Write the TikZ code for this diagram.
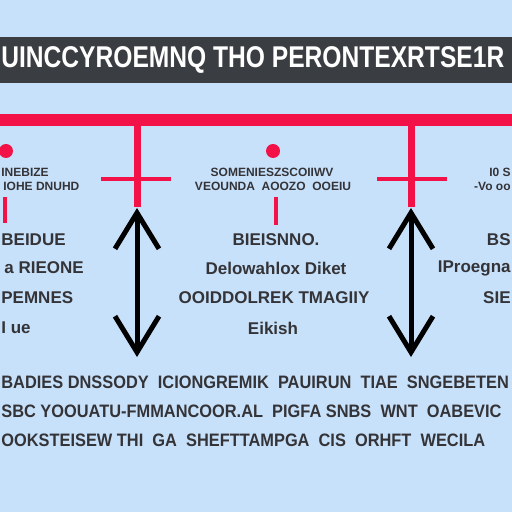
\documentclass[tikz,border=0pt]{standalone}
\usepackage{fontspec}
\setmainfont{Liberation Sans}
\usetikzlibrary{arrows.meta, positioning}
\definecolor{skyback}{RGB}{200,225,250}
\definecolor{banner}{RGB}{58,61,65}
\definecolor{crimson}{RGB}{242,18,72}
\definecolor{ink}{RGB}{52,52,56}
\tikzset{
  titletxt/.style={text=white, font=\bfseries\fontsize{15}{16}\selectfont, inner sep=0pt, xscale=0.82, transform shape},
  smalltxt/.style={text=ink, font=\bfseries\fontsize{6}{7}\selectfont, inner sep=0pt},
  midtxt/.style={text=ink, font=\bfseries\fontsize{8.5}{9.5}\selectfont, inner sep=0pt},
  rowtxt/.style={text=ink, font=\bfseries\fontsize{9}{10}\selectfont, inner sep=0pt, xscale=0.91, transform shape},
  bigred/.style={draw=crimson, line width=6pt},
  stem/.style={draw=crimson, line width=3.5pt},
  bar/.style={draw=crimson, line width=2pt},
  reddot/.style={circle, fill=crimson, minimum size=7pt, inner sep=0pt},
  updown/.style={{Straight Barb[length=18pt,width=22pt]}-{Straight Barb[length=18pt,width=22pt]}, line width=2.5pt, black}
}
\begin{document}
\begin{tikzpicture}[x=0.5pt, y=-0.5pt]
  \useasboundingbox (0,0) rectangle (512,512);
  \fill[skyback] (0,0) rectangle (512,512);
  % title banner
  \fill[banner] (0,37) rectangle (512,83);
  \node[titletxt, anchor=west] (title) at (1,60) {UINCCYROEMNQ THO PERONTEXRTSE1R};

  % red frame
  \coordinate (railL) at (0,120);
  \coordinate (railR) at (512,120);
  \coordinate (stemA) at (137,120);
  \coordinate (footA) at (137,207);
  \coordinate (barAl) at (101,179);
  \coordinate (barAr) at (171,179);
  \coordinate (stemB) at (411,120);
  \coordinate (footB) at (411,207);
  \coordinate (barBl) at (377,179);
  \coordinate (barBr) at (447,179);
  \draw[bigred] (railL) -- (railR);
  \draw[stem] (stemA) -- (footA);
  \draw[stem] (stemB) -- (footB);
  \draw[bar] (barAl) -- (barAr);
  \draw[bar] (barBl) -- (barBr);
  \node[reddot] (dotL) at (6,151) {};
  \node[reddot] (dotM) at (273,151) {};
  \coordinate (tickLt) at (5,197);
  \coordinate (tickLb) at (5,223);
  \coordinate (tickMt) at (276,197);
  \coordinate (tickMb) at (276,225);
  \draw[bar] (tickLt) -- (tickLb);
  \draw[bar] (tickMt) -- (tickMb);

  % arrows
  \coordinate (upA) at (137,208);
  \coordinate (downA) at (137,357);
  \coordinate (upB) at (411,208);
  \coordinate (downB) at (411,357);
  \draw[updown] (upA) -- (downA);
  \draw[updown] (upB) -- (downB);

  % small texts under the rail
  \node[smalltxt, anchor=west] (lsa) at (1,172) {INEBIZE};
  \node[smalltxt, anchor=west] (lsb) at (3,186) {IOHE DNUHD};
  \node[smalltxt] (msa) at (272,172) {SOMENIESZSCOIIWV};
  \node[smalltxt] (msb) at (273,186) {VEOUNDA \ AOOZO \ OOEIU};
  \node[smalltxt, anchor=east] (rsa) at (511,172) {I0 S};
  \node[smalltxt, anchor=east] (rsb) at (511,186) {-Vo oo};

  % left column
  \node[midtxt, anchor=west] (la) at (1,240) {BEIDUE};
  \node[midtxt, anchor=west] (lb) at (4,268) {a RIEONE};
  \node[midtxt, anchor=west] (lc) at (1,298) {PEMNES};
  \node[midtxt, anchor=west] (ld) at (1,328) {I ue};

  % middle column
  \node[midtxt] (ma) at (276,240) {BIEISNNO.};
  \node[midtxt] (mb) at (276,268) {Delowahlox Diket};
  \node[midtxt] (mc) at (274,298) {OOIDDOLREK TMAGIIY};
  \node[midtxt] (md) at (273,328) {Eikish};

  % right column
  \node[midtxt, anchor=east] (ra) at (511,240) {BS};
  \node[midtxt, anchor=east] (rb) at (511,268) {IProegna};
  \node[midtxt, anchor=east] (rc) at (511,298) {SIE};

  % bottom lines
  \node[rowtxt, anchor=west] (rowa) at (1,382) {BADIES DNSSODY \ ICIONGREMIK \ PAUIRUN \ TIAE \ SNGEBETEN};
  \node[rowtxt, anchor=west] (rowb) at (1,411) {SBC YOOUATU-FMMANCOOR.AL \ PIGFA SNBS \ WNT \ OABEVIC};
  \node[rowtxt, anchor=west] (rowc) at (1,440) {OOKSTEISEW THI \ GA \ SHEFTTAMPGA \ CIS \ ORHFT \ WECILA};
\end{tikzpicture}
\end{document}
